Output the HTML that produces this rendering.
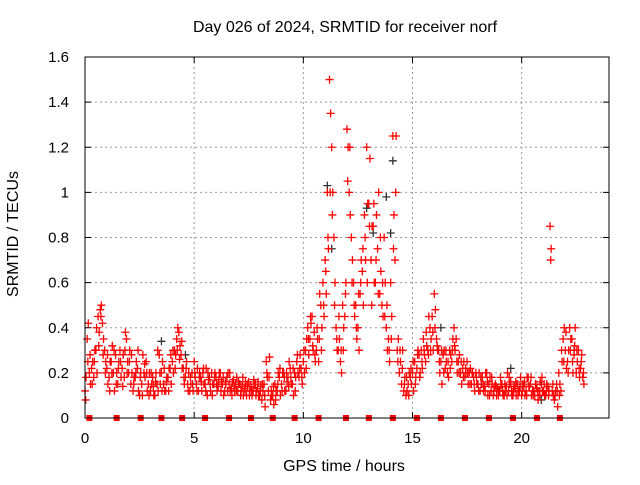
<!DOCTYPE html>
<html><head><meta charset="utf-8"><style>
body{margin:0;background:#fff}
svg text{font-family:"Liberation Sans",sans-serif;font-size:15px;fill:#000}
svg text.big{font-size:16px}
</style></head><body>
<svg id="c" width="640" height="480" xmlns="http://www.w3.org/2000/svg">
<rect width="640" height="480" fill="#fff"/>
<text class="big" x="345" y="32" text-anchor="middle">Day 026 of 2024, SRMTID for receiver norf</text>
<text class="big" x="344" y="471" text-anchor="middle">GPS time / hours</text>
<text class="big" transform="translate(18,234) rotate(-90)" text-anchor="middle">SRMTID / TECUs</text>
<g id="grid"></g><g id="ticks"></g><g id="marks"></g>
<rect x="85" y="57" width="524" height="361" fill="none" stroke="#000"/>
</svg>
<script>
const xTicks=[0,5,10,15,20];
const yTicks=[0,0.2,0.4,0.6,0.8,1,1.2,1.4,1.6];
const yTickLabels=["0","0.2","0.4","0.6","0.8","1","1.2","1.4","1.6"];
const startA=0.0, startB=0.05, startC=0.03, step=0.1;
const seriesA=[0.12,0.35,0.2,0.22,0.18,0.3,0.45,0.48,0.42,0.3,
0.22,0.18,0.25,0.2,0.28,0.15,0.3,0.22,0.18,0.35,
0.2,0.15,0.12,0.18,0.22,0.1,0.15,0.2,0.25,0.15,
0.12,0.18,0.1,0.15,0.28,0.2,0.15,0.12,0.18,0.22,
0.25,0.3,0.35,0.38,0.28,0.22,0.18,0.15,0.12,0.2,
0.25,0.15,0.12,0.18,0.2,0.15,0.1,0.18,0.2,0.15,
0.18,0.14,0.2,0.15,0.12,0.18,0.15,0.13,0.17,0.15,
0.12,0.15,0.14,0.13,0.1,0.16,0.14,0.12,0.15,0.13,
0.1,0.08,0.15,0.25,0.12,0.08,0.1,0.15,0.12,0.18,
0.15,0.2,0.12,0.18,0.22,0.15,0.2,0.25,0.18,0.22,
0.25,0.3,0.4,0.35,0.45,0.38,0.3,0.25,0.5,0.6,
0.7,1.0,1.5,1.2,0.8,0.4,0.3,0.25,0.5,0.45,
1.28,1.0,0.8,0.6,0.5,0.4,0.55,0.65,0.9,1.2,
0.95,0.7,0.85,0.6,0.75,0.55,0.5,0.8,0.4,0.35,
0.6,1.25,0.7,0.3,0.2,0.15,0.12,0.1,0.15,0.18,
0.2,0.25,0.22,0.28,0.3,0.35,0.25,0.3,0.4,0.45,
0.55,0.35,0.3,0.25,0.28,0.22,0.2,0.3,0.25,0.4,
0.35,0.25,0.2,0.22,0.18,0.25,0.2,0.15,0.18,0.2,
0.15,0.12,0.18,0.14,0.2,0.15,0.12,0.1,0.15,0.13,
0.12,0.15,0.1,0.14,0.12,0.16,0.1,0.13,0.15,0.12,
0.1,0.14,0.12,0.18,0.15,0.12,0.1,0.13,0.12,0.15,
0.12,0.1,0.14,0.85,0.12,0.08,0.15,0.2,0.12,0.35,
0.3,0.25,0.4,0.35,0.28,0.2,0.3,0.22,0.18];
const seriesB=[0.18,0.42,0.15,0.25,0.3,0.2,0.38,0.5,0.35,0.25,
0.15,0.25,0.32,0.12,0.2,0.25,0.18,0.28,0.38,0.25,
0.3,0.2,0.18,0.25,0.12,0.2,0.28,0.18,0.12,0.2,
0.15,0.1,0.2,0.12,0.15,0.25,0.12,0.18,0.22,0.15,
0.2,0.28,0.4,0.32,0.22,0.15,0.25,0.2,0.15,0.12,
0.18,0.22,0.2,0.12,0.15,0.22,0.17,0.12,0.15,0.2,
0.12,0.2,0.16,0.1,0.15,0.2,0.12,0.16,0.12,0.18,
0.15,0.12,0.1,0.16,0.14,0.12,0.1,0.15,0.12,0.1,
0.14,0.12,0.05,0.18,0.27,0.1,0.06,0.12,0.2,0.1,
0.2,0.12,0.16,0.25,0.15,0.1,0.18,0.2,0.28,0.15,
0.2,0.35,0.28,0.42,0.3,0.25,0.35,0.55,0.4,0.45,
0.55,0.75,1.35,1.0,0.6,0.3,0.35,0.2,0.4,0.6,
1.2,0.9,0.7,0.45,0.35,0.3,0.7,0.5,0.7,0.95,
1.15,0.85,0.6,0.9,1.0,0.65,0.45,0.6,0.3,0.25,
0.45,0.9,1.25,0.35,0.25,0.3,0.18,0.12,0.2,0.15,
0.12,0.18,0.3,0.2,0.22,0.28,0.32,0.45,0.35,0.3,
0.48,0.3,0.2,0.15,0.3,0.25,0.18,0.28,0.35,0.3,
0.2,0.28,0.15,0.25,0.2,0.15,0.22,0.2,0.12,0.15,
0.2,0.15,0.12,0.2,0.1,0.18,0.15,0.14,0.1,0.12,
0.15,0.1,0.12,0.2,0.15,0.1,0.14,0.1,0.12,0.18,
0.15,0.1,0.18,0.14,0.1,0.12,0.15,0.08,0.16,0.12,
0.1,0.15,0.12,0.75,0.1,0.12,0.05,0.15,0.25,0.4,
0.22,0.3,0.35,0.2,0.4,0.25,0.18,0.28,0.15];
const seriesC=[0.08,0.25,0.28,0.15,0.25,0.4,0.32,0.45,0.28,0.2,
0.28,0.12,0.2,0.3,0.15,0.22,0.25,0.14,0.3,0.2,
0.25,0.28,0.15,0.2,0.3,0.18,0.1,0.24,0.2,0.1,
0.2,0.14,0.16,0.3,0.2,0.12,0.22,0.16,0.12,0.28,
0.3,0.22,0.3,0.26,0.34,0.18,0.22,0.12,0.18,0.15,
0.2,0.12,0.18,0.16,0.22,0.12,0.2,0.15,0.1,0.18,
0.15,0.17,0.12,0.18,0.16,0.12,0.2,0.1,0.14,0.12,
0.16,0.1,0.18,0.12,0.15,0.1,0.12,0.17,0.1,0.16,
0.12,0.15,0.1,0.2,0.18,0.12,0.14,0.08,0.15,0.22,
0.12,0.18,0.2,0.14,0.18,0.22,0.12,0.28,0.22,0.18,
0.3,0.22,0.35,0.45,0.32,0.28,0.4,0.35,0.3,0.5,
0.65,0.8,1.0,0.9,0.5,0.35,0.45,0.3,0.3,0.55,
1.05,1.2,0.6,0.5,0.4,0.55,0.6,0.75,0.8,0.6,
0.85,0.5,0.95,0.7,0.55,0.8,0.6,0.45,0.5,0.3,
0.35,0.75,1.0,0.25,0.3,0.22,0.15,0.18,0.1,0.22,
0.25,0.15,0.28,0.18,0.25,0.3,0.38,0.28,0.3,0.38,
0.4,0.32,0.25,0.3,0.2,0.3,0.25,0.22,0.3,0.32,
0.25,0.2,0.25,0.18,0.22,0.2,0.15,0.2,0.15,0.18,
0.12,0.18,0.15,0.12,0.16,0.1,0.18,0.12,0.14,0.1,
0.18,0.12,0.15,0.1,0.18,0.12,0.12,0.16,0.1,0.14,
0.12,0.16,0.1,0.14,0.18,0.1,0.15,0.12,0.1,0.18,
0.15,0.12,0.1,0.7,0.15,0.1,0.12,0.1,0.3,0.25,
0.38,0.2,0.3,0.25,0.32,0.3,0.22,0.25,0.2];
const darkTimes=[3.5,4.6,11.1,11.3,12.9,13.2,13.8,14.0,14.1,16.3,19.5,20.9,22.4];
const darkValues=[0.34,0.28,1.03,0.75,0.93,0.82,0.98,0.82,1.14,0.4,0.22,0.08,0.3];
const zeroTimes=[0.2,1.45,2.55,3.5,4.45,5.5,6.6,7.6,8.6,9.6,10.7,11.95,13.0,14.1,15.2,16.3,17.4,18.5,19.6,20.7,21.75];
const X=t=>85+t*(524/24), Y=v=>418-v*(361/1.6);
const NS="http://www.w3.org/2000/svg";
function mk(tag,at,parent){const e=document.createElementNS(NS,tag);for(const k in at)e.setAttribute(k,at[k]);document.getElementById(parent).appendChild(e);return e;}
xTicks.forEach(t=>{
 if(t>0){const g=mk('line',{x1:X(t),x2:X(t),y1:57,y2:418,stroke:'#999','stroke-dasharray':'2,3'},'grid');
 
 }
 mk('line',{x1:X(t),x2:X(t),y1:418,y2:412,stroke:'#000'},'ticks');
 mk('line',{x1:X(t),x2:X(t),y1:57,y2:63,stroke:'#000'},'ticks');
 const l=mk('text',{x:X(t),y:443,'text-anchor':'middle'},'ticks');l.textContent=t;
 
 
});
yTicks.forEach((v,i)=>{
 if(v>0&&v<1.6){const g=mk('line',{x1:85,x2:609,y1:Y(v),y2:Y(v),stroke:'#999','stroke-dasharray':'2,3'},'grid');
 
 }
 mk('line',{x1:85,x2:91,y1:Y(v),y2:Y(v),stroke:'#000'},'ticks');
 mk('line',{x1:609,x2:603,y1:Y(v),y2:Y(v),stroke:'#000'},'ticks');
 const l=mk('text',{x:69,y:Y(v)+5,'text-anchor':'end'},'ticks');l.textContent=yTickLabels[i];
 
 
});
function plus(t,v,col,name){
 const x=X(t),y=Y(v);
 const p=mk('path',{d:`M${x-4},${y}H${x+4}M${x},${y-4}V${y+4}`,stroke:col,'stroke-width':1.3,fill:'none'},'marks');
 
 
}
darkTimes.forEach((t,i)=>plus(t,darkValues[i],'#333','dark-point'));
seriesA.forEach((v,i)=>plus(startA+i*step,v,'#f00','point-a'));
seriesB.forEach((v,i)=>plus(startB+i*step,v,'#f00','point-b'));
seriesC.forEach((v,i)=>plus(startC+i*step,v,'#f00','point-c'));
zeroTimes.forEach(t=>{
 const r=mk('rect',{x:X(t)-3,y:415,width:6,height:6,fill:'#f00'},'marks');
 
 
});
</script>
</body></html>
